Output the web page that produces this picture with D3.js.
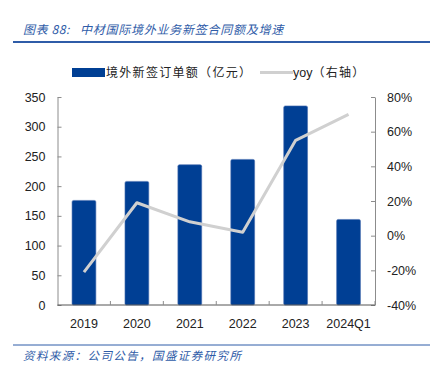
<!DOCTYPE html>
<html>
<head>
<meta charset="utf-8">
<script src="https://cdn.jsdelivr.net/npm/d3@7"></script>
<style>
  body { margin: 0; background: #fff; }
  svg text { font-family: "Liberation Sans", Arial, sans-serif; }
</style>
</head>
<body>
<div id="chart"></div>
<script>
// data
const categories = ["2019", "2020", "2021", "2022", "2023", "2024Q1"];
const amounts = [176, 208, 236, 245, 335, 144];      // 境外新签订单额（亿元）
const yoy = [-21, 19, 8, 2, 55, 70];                  // yoy（右轴）, %
const leftTicks = [0, 50, 100, 150, 200, 250, 300, 350];
const rightTicks = [-40, -20, 0, 20, 40, 60, 80];

const width = 433, height = 376;
const margin = { top: 97, right: 58, bottom: 71, left: 57.5 };
const blue = "#003f94", gray = "#d0d0d0", titleBlue = "#2f5ca8";
const cjk = '"Noto Sans CJK SC", sans-serif';

const svg = d3.select("#chart").append("svg")
  .attr("width", width).attr("height", height);

// title + rule
svg.append("text")
  .attr("x", 23).attr("y", 34)
  .attr("fill", titleBlue)
  .style("font-family", cjk)
  .style("font-size", "12px")
  .style("font-style", "italic")
  .style("letter-spacing", "0.6px")
  .text("图表 88:");
svg.append("text")
  .attr("x", 80).attr("y", 34)
  .attr("fill", titleBlue)
  .style("font-family", cjk)
  .style("font-size", "12px")
  .style("font-style", "italic")
  .style("letter-spacing", "0.75px")
  .text("中材国际境外业务新签合同额及增速");
svg.append("line")
  .attr("x1", 13).attr("x2", 430).attr("y1", 42).attr("y2", 42)
  .attr("stroke", titleBlue).attr("stroke-width", 2);

const x = d3.scaleBand()
  .domain(categories)
  .range([margin.left, width - margin.right])
  .paddingInner(0.55).paddingOuter(0.275);
const yL = d3.scaleLinear().domain([0, 350]).range([height - margin.bottom, margin.top]);
const yR = d3.scaleLinear().domain([-40, 80]).range([height - margin.bottom, margin.top]);

const plotL = margin.left, plotR = width - margin.right;
const axisColor = "#8c8c8c";

// left axis
const gL = svg.append("g").attr("transform", `translate(${plotL},0)`)
  .call(d3.axisLeft(yL).tickValues(leftTicks).tickSizeInner(-4).tickSizeOuter(0).tickPadding(12));
// right axis
const gR = svg.append("g").attr("transform", `translate(${plotR},0)`)
  .call(d3.axisRight(yR).tickValues(rightTicks).tickSizeInner(-4).tickSizeOuter(0).tickPadding(12)
    .tickFormat(d => d + "%"));
[gL, gR].forEach(g => {
  g.select(".domain").attr("stroke", axisColor);
  g.selectAll(".tick line").attr("stroke", axisColor);
  g.selectAll(".tick text").attr("fill", "#222").style("font-size", "12.5px");
});

// bars
svg.append("g").selectAll("rect")
  .data(amounts)
  .join("rect")
  .attr("x", (d, i) => x(categories[i]))
  .attr("y", d => yL(d))
  .attr("width", x.bandwidth())
  .attr("height", d => yL(0) - yL(d))
  .attr("rx", 1.5)
  .attr("fill", blue)
  .attr("stroke", "#4a6fb0")
  .attr("stroke-width", 0.6);

// bottom axis, ticks between categories pointing up
const gB = svg.append("g").attr("transform", `translate(0,${yL(0)})`);
gB.append("line").attr("x1", plotL).attr("x2", plotR).attr("y1", 0).attr("y2", 0)
  .attr("stroke", "#555");
const step = x.step();
gB.selectAll(".sep")
  .data(d3.range(1, categories.length + 1))
  .join("line")
  .attr("x1", i => plotL + i * step).attr("x2", i => plotL + i * step)
  .attr("y1", 0).attr("y2", -4)
  .attr("stroke", axisColor);
gB.selectAll(".lab")
  .data(categories)
  .join("text")
  .attr("x", d => x(d) + x.bandwidth() / 2)
  .attr("y", 23)
  .attr("text-anchor", "middle")
  .attr("fill", "#222")
  .style("font-size", "12.5px")
  .text(d => d);

// yoy line
const line = d3.line()
  .x((d, i) => x(categories[i]) + x.bandwidth() / 2)
  .y(d => yR(d));
svg.append("path")
  .datum(yoy)
  .attr("d", line)
  .attr("fill", "none")
  .attr("stroke", gray)
  .attr("stroke-width", 3)
  .attr("stroke-linejoin", "round");

// legend
const lg = svg.append("g");
lg.append("rect").attr("x", 72).attr("y", 68).attr("width", 33).attr("height", 9).attr("fill", blue);
lg.append("text").attr("x", 106).attr("y", 77)
  .style("font-family", cjk).style("font-size", "12px").style("letter-spacing", "1.3px")
  .attr("fill", "#222")
  .text("境外新签订单额（亿元）");
lg.append("line").attr("x1", 260).attr("x2", 293).attr("y1", 72.5).attr("y2", 72.5)
  .attr("stroke", gray).attr("stroke-width", 3);
lg.append("text").attr("x", 293).attr("y", 77)
  .style("font-size", "12.5px").attr("fill", "#222")
  .text("yoy")
  .append("tspan").style("font-family", cjk).style("font-size", "12px")
  .style("letter-spacing", "1.3px").text("（右轴）");

// footer
svg.append("line")
  .attr("x1", 13).attr("x2", 430).attr("y1", 345).attr("y2", 345)
  .attr("stroke", titleBlue).attr("stroke-width", 1);
svg.append("text")
  .attr("x", 23).attr("y", 360)
  .attr("fill", titleBlue)
  .style("font-family", cjk)
  .style("font-size", "11.5px")
  .style("font-style", "italic")
  .style("letter-spacing", "1.4px")
  .text("资料来源：公司公告，国盛证券研究所");
</script>
</body>
</html>
